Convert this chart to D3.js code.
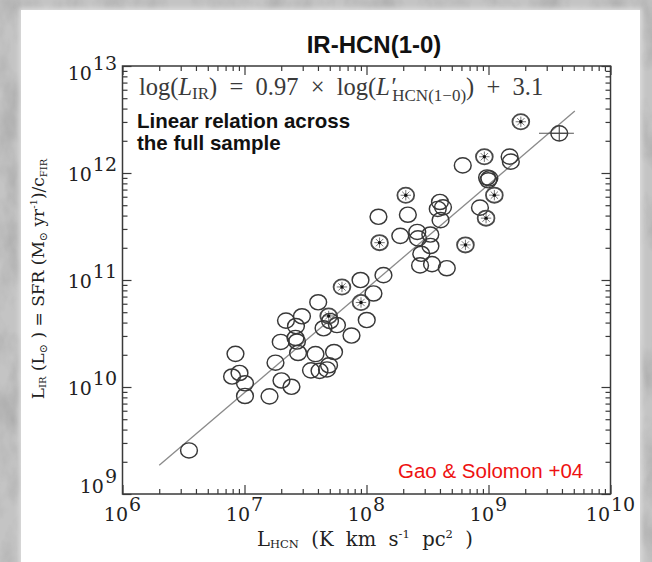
<!DOCTYPE html>
<html>
<head>
<meta charset="utf-8">
<script src="https://cdn.jsdelivr.net/npm/d3@7"></script>
<style>
  html, body { margin: 0; padding: 0; background: #bcbcbc; }
  svg { display: block; }
</style>
</head>
<body>
<svg id="chart" width="652" height="562"></svg>
<script>
// HCN(1-0) sample: log10 L'HCN [K km s^-1 pc^2] and log10 L_IR [Lsun]
const logLHCN = [
  6.545, 6.926, 6.898, 6.959, 7.004, 7.004, 7.205, 7.254, 7.303, 7.385,
  7.297, 7.340, 7.471, 7.422, 7.418, 7.430, 7.439, 7.582, 7.545, 7.615,
  7.676, 7.693, 7.734, 7.604, 7.690, 7.701, 7.648, 7.758, 7.877, 8.002,
  7.799, 7.951, 7.955, 8.057, 8.139, 8.098, 8.107, 8.277, 8.322, 8.339,
  8.416, 8.422, 8.523, 8.524, 8.449, 8.439, 8.537, 8.658, 8.602, 8.584,
  8.627, 8.607, 8.789, 8.811, 8.930, 8.966, 8.980, 8.988, 9.007, 8.998,
  9.048, 9.173, 9.183, 9.265, 9.580
];
const logLIR = [
  9.407, 10.310, 10.098, 10.131, 10.035, 9.916, 9.913, 10.227, 10.061, 10.002,
  10.421, 10.621, 10.661, 10.570, 10.458, 10.425, 10.318, 10.308, 10.156, 10.151,
  10.164, 10.203, 10.327, 10.792, 10.664, 10.617, 10.549, 10.579, 10.481, 10.626,
  10.935, 11.000, 10.790, 10.874, 11.045, 11.591, 11.349, 11.413, 11.792, 11.610,
  11.449, 11.389, 11.425, 11.318, 11.245, 11.136, 11.148, 11.110, 11.729, 11.664,
  11.679, 11.559, 12.071, 11.328, 11.676, 12.152, 11.578, 11.958, 11.950, 11.932,
  11.793, 12.153, 12.106, 12.479, 12.371
];
// marker style per galaxy: "o" plain, "*" starred, "+" crossed with error bar
const markerKind = [
  "o","o","o","o","o","o","o","o","o","o",
  "o","o","o","o","o","o","o","o","o","o",
  "o","o","o","o","*","o","o","o","o","o",
  "*","o","*","o","o","o","*","o","*","o",
  "o","o","o","o","o","o","o","o","o","o",
  "o","o","o","*","o","*","*","o","o","o",
  "*","o","o","*","+"
];
// 1-sigma uncertainty on L'HCN (linear, same units), 0 where none is drawn
const hcnError = [
  0,0,0,0,0,0,0,0,0,0, 0,0,0,0,0,0,0,0,0,0,
  0,0,0,0,0,0,0,0,0,0, 0,0,0,0,0,0,0,0,0,0,
  0,0,0,0,0,0,0,0,0,0, 0,0,0,0,0,0,0,0,0,0,
  0,0,0,0,1.21e9
];

const xTickExps = [6, 7, 8, 9, 10];
const yTickExps = [9, 10, 11, 12, 13];

// least-squares relation across the full sample
const fitSlope = 0.972;
const fitIntercept = 3.143;
const fitSpan = [2e6, 5.1e9];

const titleText = "IR-HCN(1-0)";
const noteLines = ["Linear relation across", "the full sample"];
const sourceText = "Gao & Solomon +04";

// ---------------------------------------------------------------------------
const svg = d3.select("#chart");
const W = 652, H = 562;
const plot = { left: 122.5, right: 610.5, top: 66, bottom: 494 };

const defs = svg.append("defs");
const grain = defs.append("filter").attr("id", "grain")
  .attr("x", 0).attr("y", 0).attr("width", "100%").attr("height", "100%");
grain.append("feTurbulence").attr("type", "fractalNoise")
  .attr("baseFrequency", "0.03 0.018").attr("numOctaves", 4).attr("seed", 7);
grain.append("feColorMatrix").attr("type", "matrix")
  .attr("values", "0 0 0 0 0.25  0 0 0 0 0.25  0 0 0 0 0.25  1.8 0 0 0 -0.75");
const shadow = defs.append("filter").attr("id", "soft")
  .attr("x", "-5%").attr("y", "-5%").attr("width", "110%").attr("height", "110%");
shadow.append("feGaussianBlur").attr("stdDeviation", 2.5);

// slide backdrop and white card
svg.append("rect").attr("width", W).attr("height", H).attr("fill", "#c4c4c4");
svg.append("rect").attr("width", W).attr("height", H).attr("fill", "#000")
  .attr("filter", "url(#grain)").attr("opacity", 0.5);
svg.append("rect").attr("x", 19).attr("y", 8).attr("width", 623).attr("height", H)
  .attr("fill", "#dcdcdc").attr("filter", "url(#soft)");
svg.append("rect").attr("x", 21).attr("y", 10).attr("width", 619).attr("height", H)
  .attr("fill", "#ffffff");

const x = d3.scaleLog().domain([1e6, 1e10]).range([plot.left, plot.right]);
const y = d3.scaleLog().domain([1e9, 1e13]).range([plot.bottom, plot.top]);

const axisColor = "#3a3a3a";
const majorX = xTickExps.map(e => 10 ** e);
const majorY = yTickExps.map(e => 10 ** e);
const minorOf = exps => exps.slice(0, -1).flatMap(e => d3.range(2, 10).map(m => m * 10 ** e));
const minorX = minorOf(xTickExps);
const minorY = minorOf(yTickExps);

function drawAxis(axisFn, scale, values, size, transform) {
  const g = svg.append("g").attr("transform", transform)
    .call(axisFn(scale).tickValues(values).tickSizeInner(-size).tickSizeOuter(0).tickFormat(""));
  g.select(".domain").remove();
  g.selectAll(".tick line").attr("stroke", axisColor).attr("stroke-width", 1.2);
}
[[majorX, 9], [minorX, 5]].forEach(([v, s]) => {
  drawAxis(d3.axisBottom, x, v, s, `translate(0,${plot.bottom})`);
  drawAxis(d3.axisTop, x, v, s, `translate(0,${plot.top})`);
});
[[majorY, 9], [minorY, 5]].forEach(([v, s]) => {
  drawAxis(d3.axisLeft, y, v, s, `translate(${plot.left},0)`);
  drawAxis(d3.axisRight, y, v, s, `translate(${plot.right},0)`);
});

svg.append("rect")
  .attr("x", plot.left).attr("y", plot.top)
  .attr("width", plot.right - plot.left).attr("height", plot.bottom - plot.top)
  .attr("fill", "none").attr("stroke", axisColor).attr("stroke-width", 1.5);

// power-of-ten tick labels
const serif = "'DejaVu Serif', 'Liberation Serif', serif";
function powerLabel(sel, e) {
  sel.append("tspan").text("10");
  sel.append("tspan").attr("dx", 1).attr("dy", -10).text(e);
}
svg.append("g").selectAll("text").data(xTickExps).join("text")
  .attr("x", d => x(10 ** d)).attr("y", 521)
  .attr("text-anchor", "middle")
  .attr("font-family", serif).attr("font-size", 19).attr("fill", "#222")
  .each(function (d) { powerLabel(d3.select(this), d); });
svg.append("g").selectAll("text").data(yTickExps).join("text")
  .attr("x", 117)
  .attr("y", d => y(10 ** d) + (d === 13 ? 14 : d === 9 ? -1 : 8))
  .attr("text-anchor", "end")
  .attr("font-family", serif).attr("font-size", 19).attr("fill", "#222")
  .each(function (d) { powerLabel(d3.select(this), d); });

// axis titles
const xTitle = svg.append("text")
  .attr("x", 365).attr("y", 546).attr("text-anchor", "middle")
  .attr("font-family", serif).attr("font-size", 19.5).attr("fill", "#222")
  .style("white-space", "pre");
xTitle.append("tspan").text("L");
xTitle.append("tspan").attr("font-size", 11.5).attr("dy", 2).text("HCN");
xTitle.append("tspan").attr("dy", -2).text("  (K  km  s");
xTitle.append("tspan").attr("font-size", 11.5).attr("dy", -8).text("-1");
xTitle.append("tspan").attr("dy", 8).text("  pc");
xTitle.append("tspan").attr("font-size", 11.5).attr("dy", -8).text("2");
xTitle.append("tspan").attr("dy", 8).text("  )");

const yTitle = svg.append("text")
  .attr("transform", "translate(44,279) rotate(-90)").attr("text-anchor", "middle")
  .attr("font-family", serif).attr("font-size", 17).attr("fill", "#222")
  .style("white-space", "pre");
yTitle.append("tspan").text("L");
yTitle.append("tspan").attr("font-size", 10).attr("dy", 2).text("IR");
yTitle.append("tspan").attr("dy", -2).text(" (L");
yTitle.append("tspan").attr("font-size", 11).attr("dy", 3).text("\u2299");
yTitle.append("tspan").attr("dy", -3).text(" ) = SFR (M");
yTitle.append("tspan").attr("font-size", 11).attr("dy", 3).text("\u2299");
yTitle.append("tspan").attr("dy", -3).text(" yr");
yTitle.append("tspan").attr("font-size", 10).attr("dy", -7).text("-1");
yTitle.append("tspan").attr("dy", 7).text(")/c");
yTitle.append("tspan").attr("font-size", 10).attr("dy", 3).text("FIR");

// fitted relation
const fitLine = d3.line().x(d => x(d)).y(d => y(10 ** (fitSlope * Math.log10(d) + fitIntercept)));
svg.append("path").datum(fitSpan)
  .attr("d", fitLine).attr("fill", "none")
  .attr("stroke", "#8a8a8a").attr("stroke-width", 1.3);

// galaxies
const galaxies = logLHCN.map((lx, i) => ({
  hcn: 10 ** lx, ir: 10 ** logLIR[i], kind: markerKind[i], err: hcnError[i]
}));
const rx = 8.4, ry = 7.6;
const marks = svg.append("g").selectAll("g").data(galaxies).join("g")
  .attr("transform", d => `translate(${x(d.hcn)},${y(d.ir)})`);

marks.filter(d => d.err > 0).append("line")
  .attr("x1", d => x(d.hcn - d.err) - x(d.hcn)).attr("x2", d => x(d.hcn + d.err) - x(d.hcn))
  .attr("stroke", "#555").attr("stroke-width", 1.1);

marks.append("ellipse").attr("rx", rx).attr("ry", ry)
  .attr("fill", "none").attr("stroke", d => d.kind === "*" ? "#4a4a4a" : "#383838")
  .attr("stroke-width", d => d.kind === "*" ? 1.8 : 1.45);

const stars = marks.filter(d => d.kind === "*");
[0, 45, 90, 135].forEach(a => {
  const r = 5.2, t = a * Math.PI / 180;
  stars.append("line")
    .attr("x1", -r * Math.cos(t)).attr("y1", -r * Math.sin(t))
    .attr("x2", r * Math.cos(t)).attr("y2", r * Math.sin(t))
    .attr("stroke", "#666").attr("stroke-width", 0.9);
});
stars.append("circle").attr("r", 1.7).attr("fill", "#111");

const crossed = marks.filter(d => d.kind === "+");
crossed.append("line").attr("y1", -ry).attr("y2", ry).attr("stroke", "#444").attr("stroke-width", 1.1);
crossed.append("line").attr("x1", -rx).attr("x2", rx).attr("stroke", "#444").attr("stroke-width", 1.1);

// annotations
svg.append("text").attr("x", 374).attr("y", 53).attr("text-anchor", "middle")
  .attr("font-family", "'Liberation Sans', Arial, sans-serif").attr("font-weight", "bold")
  .attr("font-size", 24).attr("fill", "#111").text(titleText);

const fmtSlope = d3.format(".2f"), fmtIcpt = d3.format(".1f");
const sp = "\u2002";
const eq = svg.append("text").attr("x", 139).attr("y", 95)
  .attr("font-family", "'Liberation Serif', 'Times New Roman', serif")
  .attr("font-size", 24.5).attr("fill", "#3a3a3a").style("white-space", "pre");
eq.append("tspan").text("log(");
eq.append("tspan").attr("font-style", "italic").text("L");
eq.append("tspan").attr("font-size", 17).attr("dy", 4).text("IR");
eq.append("tspan").attr("dy", -4).text(`)${sp}=${sp}${fmtSlope(fitSlope)}${sp}\u00d7${sp}log(`);
eq.append("tspan").attr("font-style", "italic").text("L\u2032");
eq.append("tspan").attr("font-size", 17).attr("dx", -3).attr("dy", 6).text("HCN(1\u22120)");
eq.append("tspan").attr("dy", -6).text(`)${sp}+${sp}${fmtIcpt(fitIntercept)}`);

svg.append("text").attr("x", 137).attr("y", 128)
  .attr("font-family", "'Liberation Sans', Arial, sans-serif").attr("font-weight", "bold")
  .attr("font-size", 20.5).attr("fill", "#111")
  .selectAll("tspan").data(noteLines).join("tspan")
  .attr("x", 137).attr("dy", (d, i) => i ? 22 : 0).text(d => d);

svg.append("text").attr("x", 398).attr("y", 478)
  .attr("font-family", "'Liberation Sans', Arial, sans-serif")
  .attr("font-size", 20.5).attr("fill", "#ee1111").text(sourceText);
</script>
</body>
</html>
